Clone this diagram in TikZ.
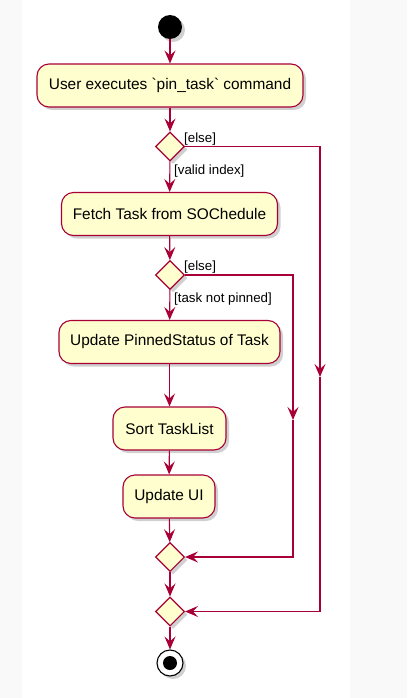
\documentclass[tikz,border=0pt]{standalone}
\usepackage{fontspec}
\setmainfont{Liberation Sans}
\usetikzlibrary{shapes.geometric,arrows.meta,shadows}
\definecolor{pborder}{HTML}{A80036}
\definecolor{pfill}{HTML}{FEFECE}
\tikzset{
  shad/.style={drop shadow={shadow xshift=3pt,shadow yshift=-3pt,opacity=0.3,fill=black!60}},
  act/.style={rectangle,rounded corners=12pt,draw=pborder,fill=pfill,line width=1.1pt,
    minimum height=43pt,inner sep=0pt,font=\fontsize{15.4}{17}\selectfont,shad},
  dec/.style={diamond,aspect=1,draw=pborder,fill=pfill,line width=1.1pt,
    minimum width=29pt,minimum height=29pt,inner sep=0pt,shad},
  flow/.style={draw=pborder,line width=1.1pt,-{Stealth[length=13pt,width=11pt,inset=5pt]}},
  line/.style={draw=pborder,line width=1.1pt},
  lbl/.style={font=\fontsize{13.3}{15}\selectfont,inner sep=0pt,anchor=west}
}
\begin{document}
\begin{tikzpicture}[x=1pt,y=-1pt]
\useasboundingbox (0,0) rectangle (407,698);
\fill[black!2.5] (0,0) rectangle (407,698);
\fill[white] (22,0) rectangle (350,698);

\node[circle,fill=black,minimum size=24pt,inner sep=0pt,shad] (start) at (170,27) {};
\node[act,minimum width=266pt] (a1) at (170,85.5) {User executes \textasciigrave pin\_task\textasciigrave{} command};
\node[dec] (d1) at (170,146.5) {};
\node[act,minimum width=216pt] (a2) at (169.5,214) {Fetch Task from SOChedule};
\node[dec] (d2) at (170,275) {};
\node[act,minimum width=221pt] (a3) at (169.5,342) {Update PinnedStatus of Task};
\node[act,minimum width=113pt] (a4) at (169.5,428.5) {Sort TaskList};
\node[act,minimum width=92pt] (a5) at (169,496.5) {Update UI};
\node[dec] (m1) at (170,557) {};
\node[dec] (m2) at (170,611.5) {};
\node[circle,draw=black,line width=1.1pt,fill=white,minimum size=26pt,inner sep=0pt,shad] (stop) at (170,663) {};
\node[circle,fill=black,minimum size=14pt,inner sep=0pt] (stopin) at (stop.center) {};

\coordinate (c1) at (320,377);
\coordinate (c2) at (293,420);

\draw[flow] (start) -- (a1);
\draw[flow] (a1) -- (d1);
\draw[flow] (d1) -- (a2);
\draw[flow] (a2) -- (d2);
\draw[flow] (d2) -- (a3);
\draw[flow] (a3) -- (a4);
\draw[flow] (a4) -- (a5);
\draw[flow] (a5) -- (m1);
\draw[flow] (m1) -- (m2);
\draw[flow] (m2) -- (stop);
\draw[flow] (d1.east) -| (c1);
\draw[flow] (c1) |- (m2.east);
\draw[flow] (d2.east) -| (c2);
\draw[flow] (c2) |- (m1.east);

\node[lbl] (l1) at (184,139) {[else]};
\node[lbl] (l2) at (174,171) {[valid index]};
\node[lbl] (l3) at (184,267) {[else]};
\node[lbl] (l4) at (174,299) {[task not pinned]};
\end{tikzpicture}
\end{document}
